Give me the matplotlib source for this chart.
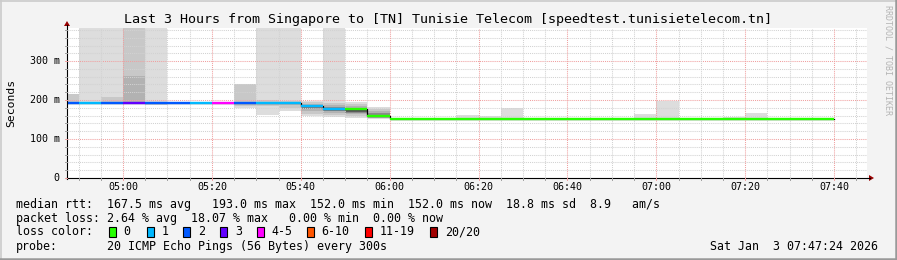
import matplotlib
matplotlib.use("Agg")
import matplotlib.pyplot as plt
from matplotlib.patches import Rectangle, Polygon
from matplotlib.lines import Line2D

# ---------------- data ----------------
# time axis in minutes after midnight
view_start = 4 * 60 + 47.4          # 04:47:24
view_end = 7 * 60 + 47.4            # 07:47:24
first_step = 4 * 60 + 45            # first 5-min step starts 04:45
step_min = 5

# median rtt per 5-min step (ms), 04:45 ... 07:35
median_ms = [193, 193, 193, 193, 193, 193, 193, 193, 193, 193,
             193, 185, 177, 177, 159, 152, 152, 152, 152, 152,
             152, 152, 152, 152, 152, 152, 152, 152, 152, 152,
             152, 152, 152, 152, 152]
# loss colour class per step (index into loss_labels)
loss_class = [2, 1, 2, 3, 2, 2, 1, 4, 2, 1,
              1, 1, 1, 0, 0, 0, 0, 0, 0, 0,
              0, 0, 0, 0, 0, 0, 0, 0, 0, 0,
              0, 0, 0, 0, 0]

loss_labels = ["0", "1", "2", "3", "4-5", "6-10", "11-19", "20/20"]
loss_colors = ["#26ff00", "#00b8ff", "#0059ff", "#6200ff",
               "#ff00ff", "#ff5500", "#ff0000", "#a10000"]

# smoke bands: step index, low ms, high ms, shade level
smoke_step = [0, 1, 2, 2, 3, 3, 4, 8, 8, 9, 9, 10, 10,
              11, 11, 11, 11, 12, 12, 12, 12,
              13, 13, 13, 13, 13, 14, 14, 14, 14,
              18, 19, 20, 26, 27, 30, 31]
smoke_lo = [192, 189, 191, 192, 190, 191, 188, 180, 186, 162, 185, 171, 180,
            159, 165, 172, 178, 157, 162, 167, 172,
            155, 159, 163, 166, 169, 151, 153, 155, 157,
            152, 152, 152, 152, 152, 152, 152]
smoke_hi = [216, 420, 420, 208, 420, 262, 420, 242, 242, 420, 200, 420, 197,
            197, 194, 190, 187, 420, 193, 188, 182,
            196, 190, 184, 178, 176, 183, 178, 172, 167,
            161, 159, 179, 164, 198, 157, 167]
smoke_level = [1, 0, 0, 1, 1, 2, 0, 0, 1, 0, 1, 0, 1,
               0, 1, 2, 3, 0, 1, 2, 3,
               0, 1, 2, 3, 4, 0, 1, 2, 3,
               0, 0, 0, 0, 0, 0, 0]
smoke_shades = ["#dddddd", "#c8c8c8", "#b2b2b2", "#8a8a8a", "#5a5a5a"]

y_max = 385
y_ticks = [0, 100, 200, 300]
y_tick_labels = ["0", "100 m", "200 m", "300 m"]
x_major = [300, 320, 340, 360, 380, 400, 420, 440, 460]
x_major_labels = ["05:00", "05:20", "05:40", "06:00", "06:20",
                  "06:40", "07:00", "07:20", "07:40"]

title = "Last 3 Hours from Singapore to [TN] Tunisie Telecom [speedtest.tunisietelecom.tn]"
legend_rtt = "median rtt:  167.5 ms avg   193.0 ms max  152.0 ms min  152.0 ms now  18.8 ms sd  8.9   am/s"
legend_loss = "packet loss: 2.64 % avg  18.07 % max   0.00 % min  0.00 % now"
probe_text = "20 ICMP Echo Pings (56 Bytes) every 300s"
date_text = "Sat Jan  3 07:47:24 2026"

# ---------------- figure ----------------
W, H = 897, 260
MONO = "DejaVu Sans Mono"
fig = plt.figure(figsize=(W / 100, H / 100), dpi=100)
fig.patch.set_facecolor("#f3f3f3")


def fx(x):
    return x / W


def fy(y):
    return 1 - y / H


ax_l, ax_r, ax_t, ax_b = 67, 867, 28, 178
ax = fig.add_axes([fx(ax_l), fy(ax_b), (ax_r - ax_l) / W, (ax_b - ax_t) / H])
ax.set_facecolor("white")
ax.set_xlim(view_start, view_end)
ax.set_ylim(0, y_max)
for s in ax.spines.values():
    s.set_visible(False)
ax.set_xticks([])
ax.set_yticks([])

# smoke
order = sorted(range(len(smoke_step)), key=lambda i: smoke_level[i])
for i in order:
    x0 = first_step + step_min * smoke_step[i]
    ax.bar(x0, smoke_hi[i] - smoke_lo[i], bottom=smoke_lo[i], width=step_min,
           align="edge", color=smoke_shades[smoke_level[i]], linewidth=0,
           zorder=1)

# grid
dots = (0, (1, 1))
for v in range(20, y_max, 20):
    major = v % 100 == 0
    ax.axhline(v, color="#f0a0a0" if major else "#d2d2d2", lw=0.75,
               ls=dots, zorder=2)
t = 290
while t < view_end:
    major = t % 20 == 0
    ax.axvline(t, color="#f0a0a0" if major else "#d2d2d2", lw=0.75,
               ls=dots, zorder=2)
    t += 5

# median line
edges = [first_step + step_min * k for k in range(len(median_ms) + 1)]
ax.step(edges, median_ms + [median_ms[-1]], where="post", color="#000000",
        lw=0.9, zorder=3)
for k, m in enumerate(median_ms):
    ax.hlines(m, edges[k], edges[k + 1], color=loss_colors[loss_class[k]],
              lw=1.7, zorder=4)

# axes lines and arrows
fig.add_artist(Line2D([fx(ax_l), fx(ax_l)], [fy(ax_b + 1), fy(25)],
                      color="#000000", lw=0.8))
fig.add_artist(Line2D([fx(ax_l - 1), fx(870)], [fy(ax_b), fy(ax_b)],
                      color="#000000", lw=0.8))
fig.add_artist(Polygon([(fx(67), fy(21)), (fx(64), fy(26)), (fx(70), fy(26))],
                       closed=True, color="#990000", lw=0))
fig.add_artist(Polygon([(fx(874), fy(178)), (fx(869), fy(175)), (fx(869), fy(181))],
                       closed=True, color="#990000", lw=0))

# tick marks
for v in range(0, y_max, 20):
    yy = ax_b - v * (ax_b - ax_t) / y_max
    fig.add_artist(Line2D([fx(ax_l - 2), fx(ax_l)], [fy(yy), fy(yy)],
                          color="#a0a0a0" if v % 100 else "#f0a0a0", lw=0.7))
t = 290
while t < view_end:
    xx = ax_l + (t - view_start) * (ax_r - ax_l) / (view_end - view_start)
    fig.add_artist(Line2D([fx(xx), fx(xx)], [fy(ax_b), fy(ax_b + 2)],
                          color="#a0a0a0" if t % 20 else "#f0a0a0", lw=0.7))
    t += 5

# tick labels
for v, lab in zip(y_ticks, y_tick_labels):
    yy = ax_b - v * (ax_b - ax_t) / y_max
    fig.text(fx(59.5), fy(yy), lab, ha="right", va="center",
             family=MONO, size=7.2, color="#000000")
for t, lab in zip(x_major, x_major_labels):
    xx = ax_l + (t - view_start) * (ax_r - ax_l) / (view_end - view_start)
    fig.text(fx(xx), fy(187.5), lab, ha="center", va="center",
             family=MONO, size=7.2, color="#000000")

# titles
fig.text(fx(448), fy(19.3), title, ha="center", va="center", family=MONO,
         size=9.6, color="#000000")
fig.text(fx(11), fy(103), "Seconds", ha="center", va="center", rotation=90,
         family=MONO, size=8.2, color="#000000")
fig.text(fx(887.5), fy(60), "RRDTOOL / TOBI OETIKER", ha="center", va="center",
         rotation=270, family=MONO, size=6.0, color="#b4b4b4")

# legend
LS = 8.37
fig.text(fx(16), fy(204.3), legend_rtt, ha="left", va="center", family=MONO,
         size=LS, color="#000000")
fig.text(fx(16), fy(218.3), legend_loss, ha="left", va="center", family=MONO,
         size=LS, color="#000000")
fig.text(fx(16), fy(231.7), "loss color:", ha="left", va="center", family=MONO,
         size=LS, color="#000000")
box_x = [108.7, 146.7, 183.3, 220, 256.7, 306.7, 365, 430]
for bx, lab, col in zip(box_x, loss_labels, loss_colors):
    fig.add_artist(Rectangle((fx(bx), fy(236.5)), 7 / W, 10 / H,
                             facecolor=col, edgecolor="#000000", lw=0.8))
    fig.text(fx(bx + 15), fy(231.7), lab, ha="left", va="center",
             family=MONO, size=LS, color="#000000")
fig.text(fx(16), fy(246.6), "probe:", ha="left", va="center", family=MONO,
         size=LS, color="#000000")
fig.text(fx(107.3), fy(246.6), probe_text, ha="left", va="center",
         family=MONO, size=LS, color="#000000")
fig.text(fx(878), fy(246.6), date_text, ha="right", va="center",
         family=MONO, size=LS, color="#000000")

# frame
fig.add_artist(Line2D([0, 1], [fy(0.5), fy(0.5)], color="#cbcbcb", lw=1.2))
fig.add_artist(Line2D([fx(0.5), fx(0.5)], [0, 1], color="#cbcbcb", lw=1.2))
fig.add_artist(Line2D([0, 1], [fy(258.8), fy(258.8)], color="#999999", lw=1.8))
fig.add_artist(Line2D([fx(895.8), fx(895.8)], [0, 1], color="#999999", lw=1.8))

fig.savefig("out.png", dpi=100, facecolor=fig.get_facecolor())
